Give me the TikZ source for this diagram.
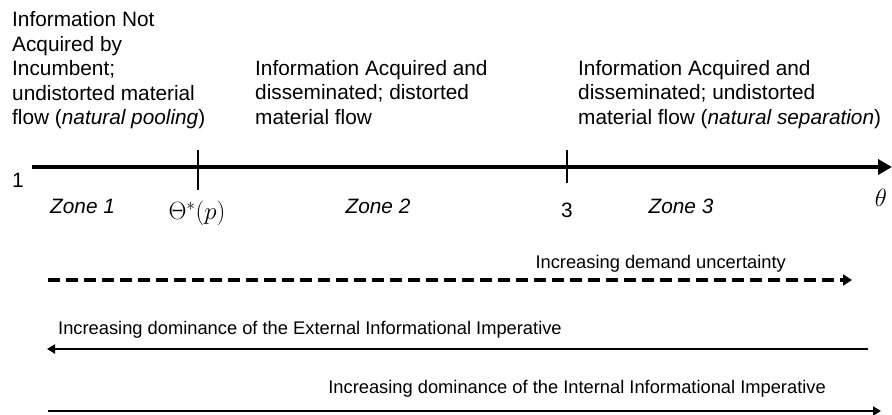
\documentclass[tikz,border=0pt]{standalone}
\usepackage{fontspec}
\setmainfont{Liberation Sans}
\usetikzlibrary{arrows.meta}
\begin{document}
\begin{tikzpicture}[x=1pt,y=-1pt,
  blocktext/.style={anchor=north west, align=left, inner sep=0pt, font=\fontsize{20.8}{24.5}\selectfont},
  zonetext/.style={inner sep=0pt, anchor=base, font=\fontsize{20.8}{24}\selectfont\itshape},
  plaintext/.style={inner sep=0pt, anchor=base, font=\fontsize{20.8}{24}\selectfont},
  smalltext/.style={inner sep=0pt, font=\fontsize{18.3}{21}\selectfont},
  axis/.style={line width=4.5pt, -{Triangle[length=14pt,width=15pt]}},
  tickline/.style={line width=1.2pt},
  dasharrow/.style={line width=4pt, dash pattern=on 12pt off 6pt, -{Triangle[length=9pt,width=11pt]}},
  solidarrow/.style={line width=2.5pt, -{Triangle[length=8pt,width=9pt]}}]
\useasboundingbox (0,0) rectangle (892,415);
% texts at top
\node[blocktext] (b1) at (12,11.3) {Information Not\\Acquired by\\Incumbent;\\undistorted material\\flow (\textit{natural pooling})};
\node[blocktext] (b2) at (255,59.8) {Information Acquired and\\disseminated; distorted\\material flow};
\node[blocktext] (b3) at (578,59.8) {Information Acquired and\\disseminated; undistorted\\material flow (\textit{natural separation})};
% axis
\coordinate (a0) at (32,167);
\coordinate (a1) at (892,167);
\draw[axis] (a0) -- (a1);
\node[plaintext, anchor=base west] (one) at (12,187) {1};
\coordinate (t1a) at (198,150);
\coordinate (t1b) at (198,190);
\draw[tickline] (t1a) -- (t1b);
\coordinate (t2a) at (567,150);
\coordinate (t2b) at (567,183);
\draw[tickline] (t2a) -- (t2b);
\node[zonetext, anchor=base west] (z1) at (50,213) {Zone 1};
\node[inner sep=0pt, font=\fontsize{23}{25}\selectfont] (th) at (197,213) {$\Theta^{*}(p)$};
\node[zonetext] (z2) at (378,213) {Zone 2};
\node[plaintext] (three) at (567,217) {3};
\node[zonetext] (z3) at (681,213) {Zone 3};
\node[inner sep=0pt, font=\fontsize{28}{30}\selectfont] (theta) at (881,198) {$\theta$};
% lower arrows
\coordinate (d0) at (48,280);
\coordinate (d1) at (852,280);
\draw[dasharrow] (d0) -- (d1);
\node[smalltext, anchor=base east] (dl) at (786,268) {Increasing demand uncertainty};
\coordinate (e0) at (868,349);
\coordinate (e1) at (47,349);
\draw[solidarrow] (e0) -- (e1);
\node[smalltext, anchor=base west] (el) at (58,334) {Increasing dominance of the External Informational Imperative};
\coordinate (i0) at (48,411);
\coordinate (i1) at (881,411);
\draw[solidarrow] (i0) -- (i1);
\node[smalltext, anchor=base east] (il) at (826,393) {Increasing dominance of the Internal Informational Imperative};
\end{tikzpicture}
\end{document}
